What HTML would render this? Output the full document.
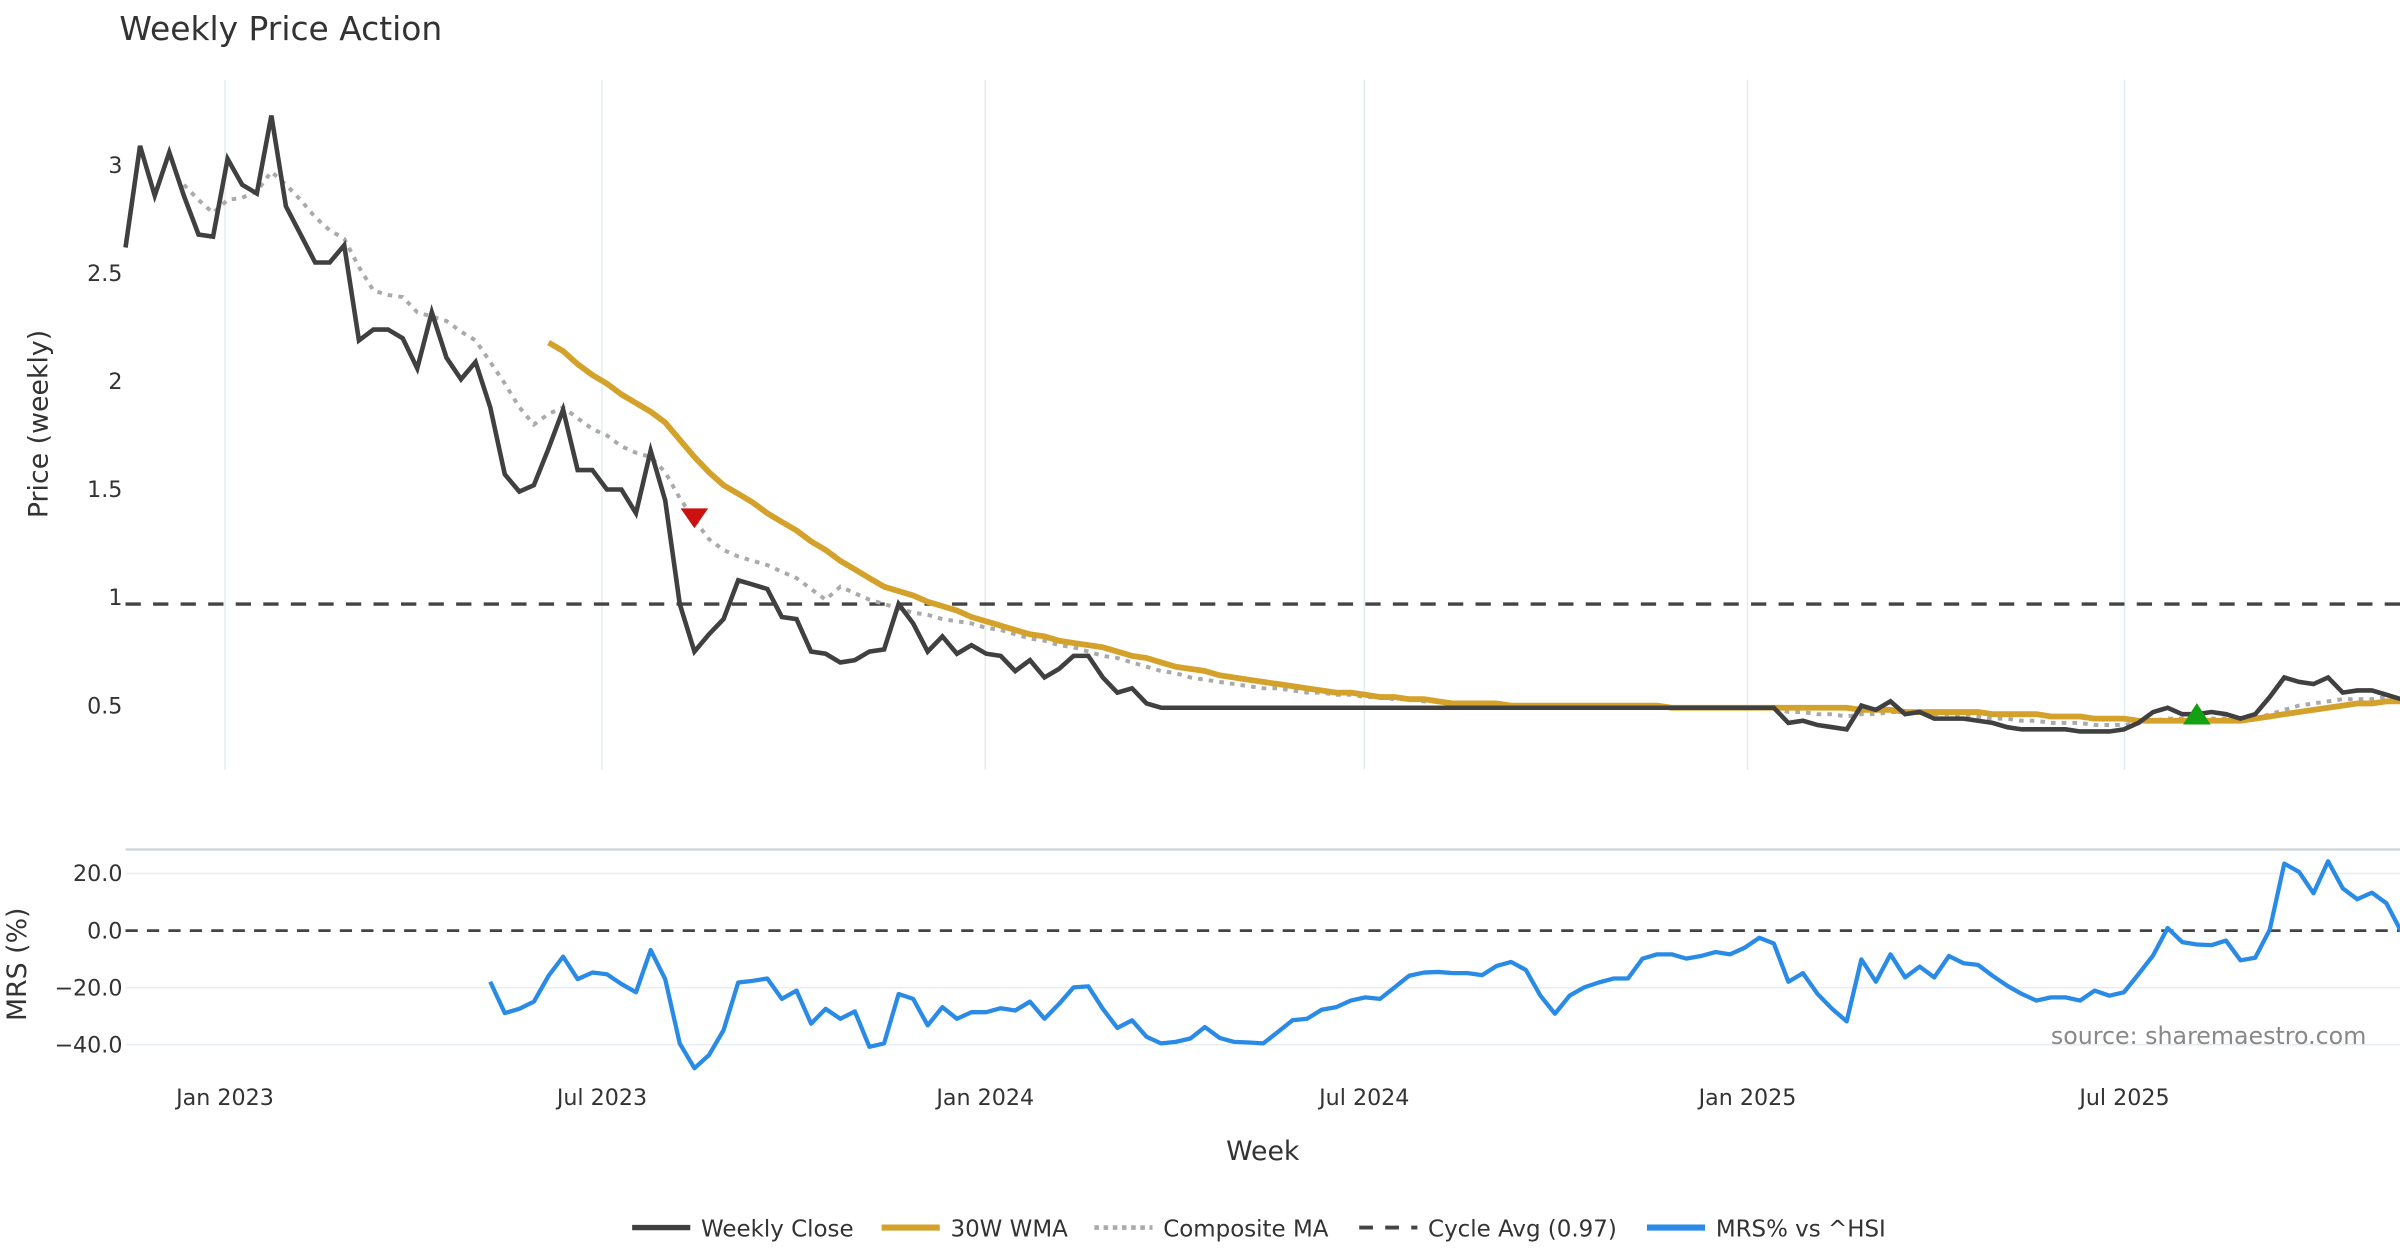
<!DOCTYPE html>
<html><head><meta charset="utf-8"><style>
html,body{margin:0;padding:0;background:#fff;}
svg{display:block;font-family:"DejaVu Sans","Liberation Sans",sans-serif;}
</style></head><body>
<svg id="chart" width="2400" height="1260" viewBox="0 0 1568 823.2" xmlns="http://www.w3.org/2000/svg">
<text x="78" y="26" font-size="21.5" fill="#333">Weekly Price Action</text>
<g id="grid"></g>
<g id="series"></g>
<g id="axes"></g>
<g id="legend"></g>
</svg>
<script>
const closeVals=[2.62,3.09,2.86,3.06,2.86,2.68,2.67,3.03,2.91,2.87,3.23,2.81,2.68,2.55,2.55,2.63,2.19,2.24,2.24,2.20,2.06,2.32,2.11,2.01,2.09,1.88,1.57,1.49,1.52,1.69,1.87,1.59,1.59,1.50,1.50,1.39,1.68,1.45,0.97,0.75,0.83,0.90,1.08,1.06,1.04,0.91,0.90,0.75,0.74,0.70,0.71,0.75,0.76,0.97,0.88,0.75,0.82,0.74,0.78,0.74,0.73,0.66,0.71,0.63,0.67,0.73,0.73,0.63,0.56,0.58,0.51,0.49,
0.49,0.49,0.49,0.49,0.49,0.49,0.49,0.49,0.49,0.49,0.49,0.49,0.49,0.49,0.49,0.49,0.49,0.49,0.49,0.49,0.49,0.49,0.49,0.49,0.49,0.49,0.49,0.49,0.49,0.49,0.49,0.49,0.49,0.49,0.49,0.49,0.49,0.49,0.49,0.49,0.49,
0.49,0.42,0.43,0.41,0.40,0.39,0.50,0.48,0.52,0.46,0.47,0.44,0.44,0.44,0.43,0.42,0.40,0.39,0.39,0.39,0.39,0.38,0.38,0.38,0.39,0.42,0.47,0.49,0.46,0.46,0.47,0.46,0.44,0.46,0.54,0.63,0.61,0.60,0.63,0.56,0.57,0.57,0.55,0.53];
const wmaStart=29;
const wmaVals=[2.18,2.14,2.08,2.03,1.99,1.94,1.90,1.86,1.81,1.73,1.65,1.58,1.52,1.48,1.44,1.39,1.35,1.31,1.26,1.22,1.17,1.13,1.09,1.05,1.03,1.01,0.98,0.96,0.94,0.91,0.89,0.87,0.85,0.83,0.82,0.80,0.79,0.78,0.77,0.75,0.73,0.72,0.70,0.68,0.67,0.66,0.64,0.63,0.62,0.61,0.60,0.59,0.58,0.57,0.56,0.56,0.55,0.54,0.54,0.53,0.53,0.52,0.51,0.51,0.51,0.51,0.50,
0.50,0.50,0.50,0.50,0.50,0.50,0.50,0.50,0.50,0.50,0.49,0.49,0.49,0.49,0.49,0.49,0.49,0.49,0.49,0.49,0.49,0.49,0.49,0.48,0.48,0.48,0.47,0.47,0.47,0.47,0.47,0.47,0.46,0.46,0.46,0.46,0.45,0.45,0.45,0.44,0.44,0.44,0.43,0.43,0.43,0.43,0.43,0.43,0.43,0.43,0.44,0.45,0.46,0.47,0.48,0.49,0.50,0.51,0.51,0.52,0.52];
const compStart=4;
const compVals=[2.91,2.84,2.78,2.84,2.85,2.88,2.97,2.91,2.84,2.76,2.70,2.66,2.53,2.42,2.40,2.39,2.32,2.30,2.28,2.23,2.19,2.09,1.99,1.88,1.80,1.85,1.88,1.83,1.78,1.75,1.70,1.67,1.65,1.58,1.46,1.36,1.27,1.22,1.19,1.17,1.15,1.12,1.09,1.04,0.99,1.05,1.02,0.99,0.97,0.95,0.93,0.92,0.90,0.89,0.88,0.86,0.85,0.83,0.81,0.80,0.78,0.77,0.75,0.73,0.72,0.70,0.68,0.66,0.65,0.63,0.62,0.61,0.60,0.59,0.58,0.58,0.57,
0.56,0.56,0.55,0.55,0.54,0.54,0.53,0.53,0.52,0.52,0.51,0.51,0.51,0.50,0.50,0.50,0.50,0.50,0.50,0.50,0.50,0.50,0.50,0.49,0.49,0.49,0.49,0.49,0.49,0.49,0.49,0.49,0.49,
0.47,0.47,0.46,0.46,0.45,0.46,0.46,0.47,0.47,0.47,0.46,0.46,0.45,0.45,0.44,0.44,0.43,0.43,0.42,0.42,0.42,0.41,0.41,0.41,0.42,0.43,0.44,0.44,0.44,0.44,0.44,0.44,0.44,0.46,0.48,0.50,0.51,0.52,0.53,0.53,0.53,0.54,0.54];
const mrsStart=25;
const mrsVals=[-17.9,-28.9,-27.4,-24.9,-15.8,-9.1,-17.0,-14.7,-15.3,-18.7,-21.6,-6.8,-17.0,-39.5,-48.2,-43.6,-34.9,-18.2,-17.6,-16.8,-23.9,-21.0,-32.6,-27.4,-30.9,-28.3,-40.7,-39.5,-22.2,-23.9,-33.2,-26.8,-30.9,-28.6,-28.6,-27.2,-28.0,-24.9,-30.9,-25.7,-19.9,-19.5,-27.4,-34.1,-31.4,-37.2,-39.5,-39.0,-37.8,-33.8,-37.6,-39.0,-39.2,-39.5,-35.5,-31.4,-30.9,-27.7,-26.8,-24.5,-23.4,-23.9,-19.9,-15.8,-14.7,-14.5,-14.9,-14.9,-15.6,-12.4,-11.0,-13.8,-22.8,-29.1,-22.8,-19.9,-18.2,-16.8,-16.8,-9.8,-8.3,-8.3,-9.8,-8.9,-7.5,-8.3,-6.0,-2.5,-4.5,-17.9,-14.9,-22.2,-27.4,-31.8,-10.1,-17.9,-8.3,-16.4,-12.6,-16.4,-8.9,-11.4,-12.0,-15.8,-19.3,-22.2,-24.5,-23.4,-23.4,-24.5,-21.0,-22.8,-21.6,-15.3,-8.7,0.9,-4.0,-4.9,-5.1,-3.5,-10.4,-9.5,0.3,23.5,20.6,13.1,24.3,14.8,11.0,13.3,9.6,-0.2];
const sellIdx=[39], sellVals=[1.37];
const buyIdx=[142], buyVals=[0.455];
const cycleAvg=0.97;
const priceTicks=[0.5,1,1.5,2,2.5,3];
const priceTickLabels=["0.5","1","1.5","2","2.5","3"];
const mrsTicks=[20,0,-20,-40];
const mrsTickLabels=["20.0","0.0","−20.0","−40.0"];
const dateTickDays=[0,181,365,547,731,912];
const dateTickLabels=["Jan 2023","Jul 2023","Jan 2024","Jul 2024","Jan 2025","Jul 2025"];

const NS="http://www.w3.org/2000/svg";
const xI=i=>82+i*9.53;
const xD=d=>147+d*(1241/912);
const yP=v=>461-(v-0.5)*141.2;
const yM=v=>608-v*1.865;
function mk(parent,tag,attrs){const e=document.createElementNS(NS,tag);for(const k in attrs)e.setAttribute(k,attrs[k]);document.getElementById(parent).appendChild(e);return e;}
function pathFrom(vals,start,yf){return vals.map((v,k)=>(k?'L':'M')+xI(start+k).toFixed(1)+' '+yf(v).toFixed(1)).join(' ');}

dateTickDays.forEach(d=>{
  const g=mk('grid','line',{x1:xD(d),x2:xD(d),y1:52,y2:503,stroke:'#e6edf1','stroke-width':1});
  
  
});
mrsTicks.forEach(t=>{
  if(t===0)return;
  const g=mk('grid','line',{x1:82,x2:1568,y1:yM(t),y2:yM(t),stroke:'#e8eef2','stroke-width':1});
  
  
});
const sep=mk('grid','line',{x1:82,x2:1568,y1:555,y2:555,stroke:'#cfd4d8','stroke-width':1.5});



const cyc=mk('series','line',{x1:82,x2:1568,y1:yP(cycleAvg),y2:yP(cycleAvg),stroke:'#444','stroke-width':2.2,'stroke-dasharray':'10 8'});


const comp=mk('series','path',{d:pathFrom(compVals,compStart,yP),fill:'none',stroke:'#aaa','stroke-width':2.6,'stroke-dasharray':'3 4'});


const wma=mk('series','path',{d:pathFrom(wmaVals,wmaStart,yP),fill:'none',stroke:'#d4a22a','stroke-width':3.8,'stroke-linejoin':'round'});


const cl=mk('series','path',{d:pathFrom(closeVals,0,yP),fill:'none',stroke:'#404040','stroke-width':3,'stroke-linejoin':'miter'});


sellIdx.forEach((i,k)=>{const x=xI(i),y=yP(sellVals[k]);
  const t=mk('series','path',{d:`M${x-9} ${y-6} L${x+9} ${y-6} L${x} ${y+7} Z`,fill:'#cc1111'});
  
  });
buyIdx.forEach((i,k)=>{const x=xI(i),y=yP(buyVals[k]);
  const t=mk('series','path',{d:`M${x-9} ${y+6} L${x+9} ${y+6} L${x} ${y-8} Z`,fill:'#13a013'});
  
  });
const z=mk('series','line',{x1:82,x2:1568,y1:yM(0),y2:yM(0),stroke:'#444','stroke-width':1.8,'stroke-dasharray':'8 6'});


const mrs=mk('series','path',{d:pathFrom(mrsVals,mrsStart,yM),fill:'none',stroke:'#2a8be6','stroke-width':2.8,'stroke-linejoin':'round'});



priceTicks.forEach((t,k)=>{const e=mk('axes','text',{x:80,y:yP(t)+5,'font-size':14.5,fill:'#333','text-anchor':'end'});e.textContent=priceTickLabels[k];
  
  });
mrsTicks.forEach((t,k)=>{const e=mk('axes','text',{x:80,y:yM(t)+5,'font-size':14.5,fill:'#333','text-anchor':'end'});e.textContent=mrsTickLabels[k];
  
  });
dateTickDays.forEach((d,k)=>{const e=mk('axes','text',{x:xD(d),y:722,'font-size':14.5,fill:'#333','text-anchor':'middle'});e.textContent=dateTickLabels[k];
  
  });
const yt=mk('axes','text',{x:0,y:0,'font-size':17.5,fill:'#333','text-anchor':'middle',transform:'translate(31,277) rotate(-90)'});yt.textContent='Price (weekly)';


const mt=mk('axes','text',{x:0,y:0,'font-size':17.5,fill:'#333','text-anchor':'middle',transform:'translate(17,630) rotate(-90)'});mt.textContent='MRS (%)';


const wt=mk('axes','text',{x:825,y:758,'font-size':17.5,fill:'#333','text-anchor':'middle'});wt.textContent='Week';


const src=mk('axes','text',{x:1546,y:682,'font-size':15.5,fill:'#888','text-anchor':'end'});src.textContent='source: sharemaestro.com';



const leg=[
 {x:413,label:'Weekly Close',stroke:'#404040',w:3.5,dash:null,name:'legend-weekly-close'},
 {x:576,label:'30W WMA',stroke:'#d4a22a',w:4,dash:null,name:'legend-30w-wma'},
 {x:715,label:'Composite MA',stroke:'#aaa',w:3,dash:'3 3',name:'legend-composite-ma'},
 {x:888,label:'Cycle Avg (0.97)',stroke:'#444',w:2.5,dash:'9 8',name:'legend-cycle-avg'},
 {x:1076,label:'MRS% vs ^HSI',stroke:'#2a8be6',w:4,dash:null,name:'legend-mrs'}];
leg.forEach(l=>{
  const g=mk('legend','g',{});
  
  
  const ln=document.createElementNS(NS,'line');
  ln.setAttribute('x1',l.x);ln.setAttribute('x2',l.x+38);ln.setAttribute('y1',802);ln.setAttribute('y2',802);
  ln.setAttribute('stroke',l.stroke);ln.setAttribute('stroke-width',l.w);
  if(l.dash)ln.setAttribute('stroke-dasharray',l.dash);
  g.appendChild(ln);
  const t=document.createElementNS(NS,'text');
  t.setAttribute('x',l.x+45);t.setAttribute('y',808);t.setAttribute('font-size',15);t.setAttribute('fill','#333');
  t.textContent=l.label;
  g.appendChild(t);
});
</script>
</body></html>
